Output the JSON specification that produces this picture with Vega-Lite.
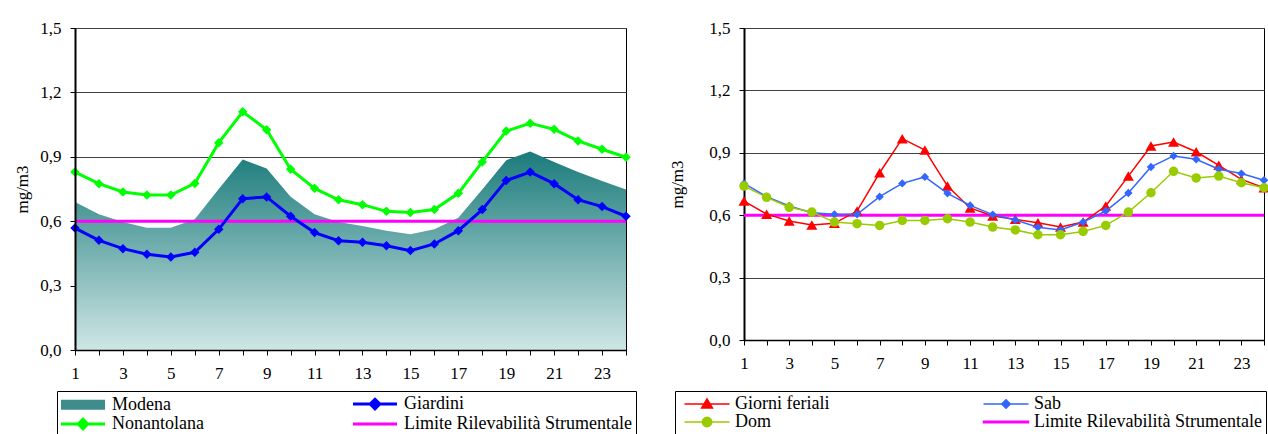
{
  "$schema": "https://vega.github.io/schema/vega-lite/v6.json",
  "background": "white",
  "padding": {"left": 13, "top": 18, "right": 0, "bottom": 0},
  "spacing": 31,
  "resolve": {"scale": {"color": "independent"}, "legend": {"color": "independent"}},
  "config": {
    "font": "Liberation Serif",
    "view": {"stroke": "#000000", "strokeWidth": 1},
    "axis": {
      "labelFont": "Liberation Serif", "labelFontSize": 17, "labelColor": "#000000",
      "titleFont": "Liberation Serif", "titleFontSize": 17, "titleFontWeight": "normal", "titleColor": "#000000",
      "domainColor": "#000000", "tickColor": "#000000", "tickSize": 5, "tickWidth": 1,
      "gridColor": "#404040", "gridOpacity": 1, "gridWidth": 1
    },
    "legend": {
      "labelFont": "Liberation Serif", "labelFontSize": 18, "labelColor": "#000000", "labelLimit": 400
    }
  },
  "datasets": {
    "sx": [
      {"ora": 1, "modena": 0.689, "giardini": 0.568, "nonantolana": 0.829, "limite": 0.6},
      {"ora": 2, "modena": 0.632, "giardini": 0.511, "nonantolana": 0.775, "limite": 0.6},
      {"ora": 3, "modena": 0.596, "giardini": 0.472, "nonantolana": 0.736, "limite": 0.6},
      {"ora": 4, "modena": 0.570, "giardini": 0.446, "nonantolana": 0.722, "limite": 0.6},
      {"ora": 5, "modena": 0.570, "giardini": 0.433, "nonantolana": 0.722, "limite": 0.6},
      {"ora": 6, "modena": 0.609, "giardini": 0.455, "nonantolana": 0.776, "limite": 0.6},
      {"ora": 7, "modena": 0.750, "giardini": 0.562, "nonantolana": 0.966, "limite": 0.6},
      {"ora": 8, "modena": 0.888, "giardini": 0.705, "nonantolana": 1.110, "limite": 0.6},
      {"ora": 9, "modena": 0.845, "giardini": 0.713, "nonantolana": 1.026, "limite": 0.6},
      {"ora": 10, "modena": 0.714, "giardini": 0.623, "nonantolana": 0.842, "limite": 0.6},
      {"ora": 11, "modena": 0.632, "giardini": 0.547, "nonantolana": 0.753, "limite": 0.6},
      {"ora": 12, "modena": 0.596, "giardini": 0.509, "nonantolana": 0.700, "limite": 0.6},
      {"ora": 13, "modena": 0.578, "giardini": 0.502, "nonantolana": 0.677, "limite": 0.6},
      {"ora": 14, "modena": 0.556, "giardini": 0.486, "nonantolana": 0.646, "limite": 0.6},
      {"ora": 15, "modena": 0.539, "giardini": 0.463, "nonantolana": 0.640, "limite": 0.6},
      {"ora": 16, "modena": 0.562, "giardini": 0.494, "nonantolana": 0.654, "limite": 0.6},
      {"ora": 17, "modena": 0.616, "giardini": 0.556, "nonantolana": 0.730, "limite": 0.6},
      {"ora": 18, "modena": 0.748, "giardini": 0.654, "nonantolana": 0.876, "limite": 0.6},
      {"ora": 19, "modena": 0.884, "giardini": 0.790, "nonantolana": 1.020, "limite": 0.6},
      {"ora": 20, "modena": 0.925, "giardini": 0.829, "nonantolana": 1.056, "limite": 0.6},
      {"ora": 21, "modena": 0.876, "giardini": 0.775, "nonantolana": 1.028, "limite": 0.6},
      {"ora": 22, "modena": 0.829, "giardini": 0.700, "nonantolana": 0.974, "limite": 0.6},
      {"ora": 23, "modena": 0.787, "giardini": 0.668, "nonantolana": 0.935, "limite": 0.6},
      {"ora": 24, "modena": 0.748, "giardini": 0.623, "nonantolana": 0.898, "limite": 0.6}
    ],
    "dx": [
      {"ora": 1, "feriali": 0.668, "sab": 0.753, "dom": 0.740, "limite": 0.6},
      {"ora": 2, "feriali": 0.605, "sab": 0.689, "dom": 0.686, "limite": 0.6},
      {"ora": 3, "feriali": 0.572, "sab": 0.644, "dom": 0.638, "limite": 0.6},
      {"ora": 4, "feriali": 0.553, "sab": 0.612, "dom": 0.615, "limite": 0.6},
      {"ora": 5, "feriali": 0.561, "sab": 0.604, "dom": 0.567, "limite": 0.6},
      {"ora": 6, "feriali": 0.620, "sab": 0.604, "dom": 0.559, "limite": 0.6},
      {"ora": 7, "feriali": 0.804, "sab": 0.689, "dom": 0.551, "limite": 0.6},
      {"ora": 8, "feriali": 0.968, "sab": 0.753, "dom": 0.575, "limite": 0.6},
      {"ora": 9, "feriali": 0.913, "sab": 0.784, "dom": 0.575, "limite": 0.6},
      {"ora": 10, "feriali": 0.740, "sab": 0.705, "dom": 0.583, "limite": 0.6},
      {"ora": 11, "feriali": 0.635, "sab": 0.647, "dom": 0.567, "limite": 0.6},
      {"ora": 12, "feriali": 0.596, "sab": 0.603, "dom": 0.543, "limite": 0.6},
      {"ora": 13, "feriali": 0.580, "sab": 0.577, "dom": 0.529, "limite": 0.6},
      {"ora": 14, "feriali": 0.564, "sab": 0.542, "dom": 0.506, "limite": 0.6},
      {"ora": 15, "feriali": 0.543, "sab": 0.529, "dom": 0.506, "limite": 0.6},
      {"ora": 16, "feriali": 0.567, "sab": 0.567, "dom": 0.522, "limite": 0.6},
      {"ora": 17, "feriali": 0.644, "sab": 0.620, "dom": 0.551, "limite": 0.6},
      {"ora": 18, "feriali": 0.788, "sab": 0.707, "dom": 0.615, "limite": 0.6},
      {"ora": 19, "feriali": 0.933, "sab": 0.832, "dom": 0.708, "limite": 0.6},
      {"ora": 20, "feriali": 0.952, "sab": 0.885, "dom": 0.811, "limite": 0.6},
      {"ora": 21, "feriali": 0.905, "sab": 0.869, "dom": 0.779, "limite": 0.6},
      {"ora": 22, "feriali": 0.840, "sab": 0.821, "dom": 0.788, "limite": 0.6},
      {"ora": 23, "feriali": 0.772, "sab": 0.800, "dom": 0.756, "limite": 0.6},
      {"ora": 24, "feriali": 0.732, "sab": 0.768, "dom": 0.732, "limite": 0.6}
    ]
  },
  "hconcat": [
    {
      "width": 551,
      "height": 322,
      "data": {"name": "sx"},
      "resolve": {"axis": {"y": "independent"}},
      "encoding": {
        "x": {
          "field": "ora", "type": "quantitative",
          "scale": {"domain": [1, 24], "nice": false, "zero": false},
          "axis": {
            "title": null, "grid": false, "zindex": 1,
            "values": [1,2,3,4,5,6,7,8,9,10,11,12,13,14,15,16,17,18,19,20,21,22,23,24],
            "labelExpr": "datum.value % 2 === 1 ? datum.label : ''",
            "labelOverlap": false, "labelFlush": false, "labelPadding": 10, "domainWidth": 1.5,
            "labelFont": "Liberation Serif", "labelFontSize": 17
          }
        }
      },
      "layer": [
        {
          "mark": {
            "type": "area", "opacity": 1, "fillOpacity": 1,
            "fill": {"gradient": "linear", "x1": 0, "y1": 0, "x2": 0, "y2": 1,
              "stops": [{"offset": 0, "color": "#1b7b7b"}, {"offset": 1, "color": "#cfe6e6"}]}
          },
          "encoding": {
            "y": {
              "field": "modena", "type": "quantitative", "title": "mg/m3",
              "scale": {"domain": [0, 1.5], "nice": false, "zero": true},
              "axis": {
                "orient": "left", "grid": false, "zindex": 1, "domainWidth": 2,
                "values": [0, 0.3, 0.6, 0.9, 1.2, 1.5],
                "labelExpr": "replace(format(datum.value, '.1f'), '.', ',')",
                "labelPadding": 9, "titlePadding": 8,
                "labelFont": "Liberation Serif", "labelFontSize": 17,
                "titleFont": "Liberation Serif", "titleFontSize": 17
              }
            }
          }
        },
        {
          "mark": {"type": "line", "strokeWidth": 3},
          "encoding": {
            "y": {
              "field": "limite", "type": "quantitative", "title": "mg/m3",
              "axis": {"orient": "right", "grid": true, "labels": false, "ticks": false, "domain": false, "title": null,
                "values": [0.3, 0.6, 0.9, 1.2, 1.5], "zindex": 0}
            },
            "color": {
              "datum": "Limite Rilevabilità Strumentale",
              "scale": {
                "domain": ["Modena", "Giardini", "Nonantolana", "Limite Rilevabilità Strumentale"],
                "range": ["#3f8c8c", "#0000ff", "#00ff00", "#ff00ff"]
              },
              "legend": {
                "title": null, "orient": "none", "direction": "horizontal", "legendX": -18, "legendY": 363,
                "columns": 2, "columnPadding": 143, "rowPadding": -4, "padding": 4,
                "strokeColor": "#000000", "fillColor": "#ffffff", "cornerRadius": 0,
                "labelOffset": 20, "symbolSize": 4, "symbolOffset": 13,
                "encode": {
                  "symbols": {
                    "update": {
                      "shape": [
                        {"test": "datum.value === 'Modena'", "value": "M-20.5,-3.5H20.5V3.5H-20.5Z"},
                        {"test": "datum.value === 'Limite Rilevabilità Strumentale'", "value": "M-22,0H22"},
                        {"value": "M-22,0H22M0,-4.8L4.8,0L0,4.8L-4.8,0Z"}
                      ],
                      "strokeWidth": {"value": 3},
                      "opacity": {"value": 1}
                    }
                  }
                }
              }
            }
          }
        },
        {
          "mark": {"type": "line", "strokeWidth": 3, "point": {"shape": "diamond", "size": 90, "filled": true, "opacity": 1}},
          "encoding": {
            "y": {"field": "giardini", "type": "quantitative", "title": "mg/m3", "axis": null},
            "color": {"datum": "Giardini"}
          }
        },
        {
          "mark": {"type": "line", "strokeWidth": 3, "point": {"shape": "diamond", "size": 90, "filled": true, "opacity": 1}},
          "encoding": {
            "y": {"field": "nonantolana", "type": "quantitative", "title": "mg/m3", "axis": null},
            "color": {"datum": "Nonantolana"}
          }
        }
      ]
    },
    {
      "width": 520,
      "height": 312,
      "data": {"name": "dx"},
      "encoding": {
        "x": {
          "field": "ora", "type": "quantitative",
          "scale": {"domain": [1, 24], "nice": false, "zero": false},
          "axis": {
            "title": null, "grid": false, "zindex": 1,
            "values": [1,2,3,4,5,6,7,8,9,10,11,12,13,14,15,16,17,18,19,20,21,22,23,24],
            "labelExpr": "datum.value % 2 === 1 ? datum.label : ''",
            "labelOverlap": false, "labelFlush": false, "labelPadding": 10, "domainWidth": 1.5,
            "labelFont": "Liberation Serif", "labelFontSize": 17
          }
        }
      },
      "layer": [
        {
          "mark": {"type": "line", "strokeWidth": 3},
          "encoding": {
            "y": {
              "field": "limite", "type": "quantitative", "title": "mg/m3",
              "scale": {"domain": [0, 1.5], "nice": false, "zero": true},
              "axis": {
                "grid": true, "domainWidth": 2,
                "values": [0, 0.3, 0.6, 0.9, 1.2, 1.5],
                "labelExpr": "replace(format(datum.value, '.1f'), '.', ',')",
                "labelPadding": 9, "titlePadding": 22,
                "labelFont": "Liberation Serif", "labelFontSize": 17,
                "titleFont": "Liberation Serif", "titleFontSize": 17
              }
            },
            "color": {
              "datum": "Limite Rilevabilità Strumentale",
              "scale": {
                "domain": ["Giorni feriali", "Sab", "Dom", "Limite Rilevabilità Strumentale"],
                "range": ["#ff0000", "#3366ff", "#99cc00", "#ff00ff"]
              },
              "legend": {
                "title": null, "orient": "none", "direction": "horizontal", "legendX": -69, "legendY": 363,
                "columns": 2, "columnPadding": 148, "rowPadding": -4, "padding": 4,
                "strokeColor": "#000000", "fillColor": "#ffffff", "cornerRadius": 0,
                "labelOffset": 19, "symbolSize": 4, "symbolOffset": 19,
                "encode": {
                  "symbols": {
                    "update": {
                      "shape": [
                        {"test": "datum.value === 'Giorni feriali'", "value": "M-22.5,0H22.5M0,-5L5.4,4L-5.4,4Z"},
                        {"test": "datum.value === 'Sab'", "value": "M-22.5,0H22.5M0,-4.3L4.3,0L0,4.3L-4.3,0Z"},
                        {"test": "datum.value === 'Dom'", "value": "M-22.5,0H22.5M4.7,0A4.7,4.7,0,1,1,-4.7,0A4.7,4.7,0,1,1,4.7,0Z"},
                        {"value": "M-22.5,-0.75H22.5V0.75H-22.5Z"}
                      ],
                      "strokeWidth": {"value": 1.5},
                      "opacity": {"value": 1}
                    }
                  }
                }
              }
            }
          }
        },
        {
          "mark": {"type": "line", "strokeWidth": 1.5, "point": {"shape": "triangle-up", "size": 120, "filled": true, "opacity": 1}},
          "encoding": {
            "y": {"field": "feriali", "type": "quantitative", "title": "mg/m3"},
            "color": {"datum": "Giorni feriali"}
          }
        },
        {
          "mark": {"type": "line", "strokeWidth": 1.5, "point": {"shape": "diamond", "size": 70, "filled": true, "opacity": 1}},
          "encoding": {
            "y": {"field": "sab", "type": "quantitative", "title": "mg/m3"},
            "color": {"datum": "Sab"}
          }
        },
        {
          "mark": {"type": "line", "strokeWidth": 1.5, "point": {"shape": "circle", "size": 90, "filled": true, "opacity": 1}},
          "encoding": {
            "y": {"field": "dom", "type": "quantitative", "title": "mg/m3"},
            "color": {"datum": "Dom"}
          }
        }
      ]
    }
  ]
}
